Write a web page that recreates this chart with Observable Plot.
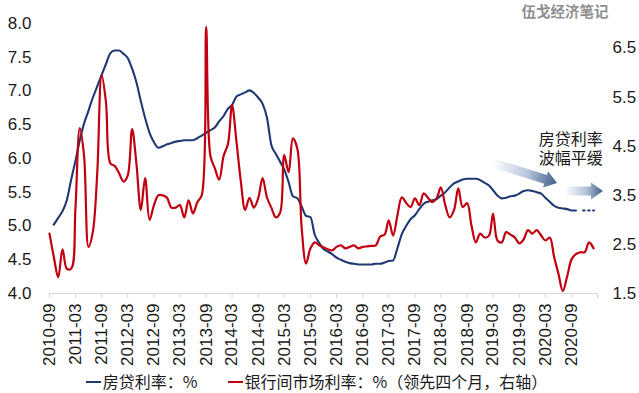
<!DOCTYPE html>
<html><head><meta charset="utf-8">
<script src="https://cdn.jsdelivr.net/npm/d3@7"></script>
<script src="https://cdn.jsdelivr.net/npm/@observablehq/plot@0.6"></script>
<style>
body{margin:0;background:#fff;}
#chart{width:639px;height:393px;position:relative;overflow:hidden;}
#chart svg{display:block;}
.legend{display:flex;justify-content:center;gap:30px;font:16px/20px "Noto Sans CJK SC",sans-serif;color:#1a1a1a;height:25px;align-items:center;margin-left:-6px;}
.sw{display:inline-block;width:15px;height:2.4px;vertical-align:middle;margin-right:2px;position:relative;top:-1px;}
</style></head><body><div id="chart"></div>
<script>
// ---- data ----
const blueName = "房贷利率：%";
const redName = "银行间市场利率：%（领先四个月，右轴）";
const blueStart = "2010-10-01";
const blueValues = [
  5.02, 5.12, 5.22, 5.39, 5.70, 5.96, 6.27, 6.52, 6.71, 6.90,
  7.07, 7.24, 7.40, 7.56, 7.60, 7.60, 7.55, 7.49, 7.33, 7.13,
  6.85, 6.60, 6.38, 6.24, 6.16, 6.18, 6.21, 6.23, 6.25, 6.26,
  6.27, 6.27, 6.27, 6.30, 6.34, 6.38, 6.42, 6.46, 6.55, 6.63,
  6.74, 6.79, 6.92, 6.95, 6.98, 7.01, 6.97, 6.90, 6.81, 6.60,
  6.20, 6.07, 5.95, 5.84, 5.65, 5.44, 5.41, 5.29, 5.15, 5.13,
  4.87, 4.75, 4.66, 4.62, 4.58, 4.53, 4.50, 4.47, 4.45, 4.44,
  4.43, 4.43, 4.43, 4.43, 4.44, 4.44, 4.46, 4.48, 4.49, 4.67,
  4.88, 5.00, 5.10, 5.16, 5.25, 5.33, 5.36, 5.38, 5.40, 5.45,
  5.50, 5.57, 5.63, 5.66, 5.69, 5.70, 5.70, 5.70, 5.68, 5.64,
  5.60, 5.53, 5.45, 5.41, 5.42, 5.44, 5.45, 5.48, 5.52, 5.53,
  5.52, 5.50, 5.48, 5.42, 5.36, 5.30, 5.27, 5.26, 5.25, 5.23, 5.23
];
const blueDotDates = ["2020-11-20", "2021-02-05"];
const blueDotValues = [5.23, 5.23];

const redStart = "2010-09-01";
const redValues = [
  2.72, 2.25, 1.83, 2.40, 2.00, 2.01, 3.20, 4.87, 4.30, 2.45,
  2.75, 3.95, 5.95, 5.40, 4.15, 4.10, 3.95, 3.78, 3.90, 4.85,
  4.15, 3.20, 3.85, 3.00, 3.30, 3.50, 3.50, 3.45, 3.25, 3.25,
  3.30, 3.05, 3.40, 3.13, 3.36, 3.50, 6.93, 4.30, 4.05, 3.82,
  4.30, 4.55, 5.34, 4.60, 3.80, 3.20, 3.45, 3.25, 3.45, 3.85,
  3.45, 3.25, 3.05, 3.15, 4.32, 3.97, 4.66, 4.45, 2.85, 2.11,
  2.42, 2.54, 2.48, 2.44, 2.40, 2.38, 2.45, 2.48, 2.42, 2.45,
  2.48, 2.42, 2.45, 2.46, 2.47, 2.48, 2.66, 2.70, 2.99, 2.68,
  3.09, 3.46, 3.35, 3.26, 3.44, 3.30, 3.54, 3.45, 3.36, 3.45,
  3.66, 3.30, 3.05, 3.20, 3.64, 3.26, 3.34, 2.89, 2.54, 2.72,
  2.64, 2.68, 3.13, 2.58, 2.54, 2.75, 2.70, 2.64, 2.52, 2.60,
  2.79, 2.72, 2.79, 2.68, 2.58, 2.64, 2.25, 1.90, 1.55, 1.85,
  2.20, 2.30, 2.34, 2.34, 2.54, 2.42
];

const xDomain = ["2010-09-01", "2021-03-01"];
const xTickStart = "2010-09-01";
const xTickCount = 22;          // every 6 months, last one unlabeled
const xLabelCount = 21;
const leftDomain = [4, 8];
const leftTicks = [4.0, 4.5, 5.0, 5.5, 6.0, 6.5, 7.0, 7.5, 8.0];
const rightDomain = [1.5, 7.0];
const rightTicks = [1.5, 2.5, 3.5, 4.5, 5.5, 6.5];

const noteLines = ["房贷利率", "波幅平缓"];
const noteDate = "2020-08-25", noteValues = [6.27, 6.00];
const arrows = [
  {from: "2019-03-01", fromV: 5.93, to: "2020-05-25", toV: 5.63},
  {from: "2020-07-20", fromV: 5.51, to: "2021-04-12", toV: 5.51}
];
const watermark = "伍戈经济笔记";

// ---- helpers ----
const toLeft = r => leftDomain[0] + (r - rightDomain[0]) * (leftDomain[1] - leftDomain[0]) / (rightDomain[1] - rightDomain[0]);
const fromLeft = l => rightDomain[0] + (l - leftDomain[0]) * (rightDomain[1] - rightDomain[0]) / (leftDomain[1] - leftDomain[0]);
const pd = s => new Date(s + "T00:00:00Z");
const blueData = blueValues.map((v, i) => ({date: d3.utcMonth.offset(pd(blueStart), i), v}));
const redData = redValues.map((v, i) => ({date: d3.utcMonth.offset(pd(redStart), i), v: toLeft(v)}));
const dotData = blueDotDates.map((d, i) => ({date: pd(d), v: blueDotValues[i]}));
const noteData = noteLines.map((t, i) => ({t, date: pd(noteDate), v: noteValues[i]}));
const xTicks = d3.range(xTickCount).map(i => d3.utcMonth.offset(pd(xTickStart), 6 * i));
const lastLabel = xTicks[xLabelCount - 1];
const fmt = d3.utcFormat("%Y-%m");

const BLUE = "#1f3a73", RED = "#c00010";
const axisFont = "'Liberation Sans', Arial, sans-serif";
const cjk = "'Noto Sans CJK SC', sans-serif";

const plot = Plot.plot({
  width: 639, height: 368,
  marginLeft: 49, marginRight: 42, marginTop: 23, marginBottom: 75,
  style: {fontFamily: axisFont, fontSize: "17px", color: "#1a1a1a", background: "#fff"},
  x: {type: "utc", domain: xDomain.map(pd)},
  y: {domain: leftDomain},
  marks: [
    Plot.ruleY([leftDomain[0]], {stroke: "#d6d6d6", strokeWidth: 1.2}),
    Plot.axisX(xTicks, {tickSize: 5, tickPadding: 5, tickRotate: -90, stroke: "#d6d6d6", fill: "#1a1a1a",
      tickFormat: d => d > lastLabel ? "" : fmt(d), label: null, fontSize: 17}),
    Plot.axisY(leftTicks, {tickSize: 0, tickPadding: 18, tickFormat: d => d.toFixed(1), label: null, fontSize: 17}),
    Plot.axisY(rightTicks.map(toLeft), {anchor: "right", tickSize: 0, tickPadding: 15,
      tickFormat: d => fromLeft(d).toFixed(1), label: null, fontSize: 17}),
    Plot.line(blueData, {x: "date", y: "v", stroke: BLUE, strokeWidth: 2.1, curve: "monotone-x"}),
    Plot.line(dotData, {x: "date", y: "v", stroke: BLUE, strokeWidth: 2, strokeDasharray: "1.6,3.4"}),
    Plot.line(redData, {x: "date", y: "v", stroke: RED, strokeWidth: 2.2, curve: "catmull-rom"}),
    Plot.text(noteData, {x: "date", y: "v", text: "t", fontFamily: cjk, fontSize: 16, fill: "#1a1a1a"}),
    Plot.text([watermark], {frameAnchor: "top-right", textAnchor: "end", lineAnchor: "middle", dx: 11, dy: -11,
      fontFamily: cjk, fontSize: 14.5, fontWeight: "bold", fill: "#8f8f8f"})
  ]
});

// gradient block arrows positioned through the plot's scales
const sx = plot.scale("x"), sy = plot.scale("y");
const svg = d3.select(plot);
const defs = svg.append("defs");
arrows.forEach((a, i) => {
  const x0 = sx.apply(pd(a.from)), y0 = sy.apply(a.fromV);
  const x1 = sx.apply(pd(a.to)), y1 = sy.apply(a.toV);
  const g = defs.append("linearGradient").attr("id", "ag" + i).attr("gradientUnits", "userSpaceOnUse")
    .attr("x1", x0).attr("y1", y0).attr("x2", x1).attr("y2", y1);
  g.append("stop").attr("offset", 0).attr("stop-color", "#ffffff");
  g.append("stop").attr("offset", 0.55).attr("stop-color", "#b4c4da");
  g.append("stop").attr("offset", 1).attr("stop-color", "#3e5d8a");
  const dx = x1 - x0, dy = y1 - y0, len = Math.hypot(dx, dy);
  const ux = dx / len, uy = dy / len, nx = -uy, ny = ux;
  const w = 4.5, h = 8.5, L = 12;
  const mx = x1 - ux * L, my = y1 - uy * L;
  const pts = [
    [x0 + nx * w, y0 + ny * w], [mx + nx * w, my + ny * w], [mx + nx * h, my + ny * h], [x1, y1],
    [mx - nx * h, my - ny * h], [mx - nx * w, my - ny * w], [x0 - nx * w, y0 - ny * w]
  ];
  svg.append("polygon").attr("points", pts.map(p => p.join(",")).join(" ")).attr("fill", `url(#ag${i})`);
});

const root = document.getElementById("chart");
root.appendChild(plot);
const legend = document.createElement("div");
legend.className = "legend";
legend.innerHTML = `<span><span class="sw" style="background:${BLUE}"></span>${blueName}</span>` +
  `<span><span class="sw" style="background:${RED}"></span>${redName}</span>`;
root.appendChild(legend);
</script></body></html>
